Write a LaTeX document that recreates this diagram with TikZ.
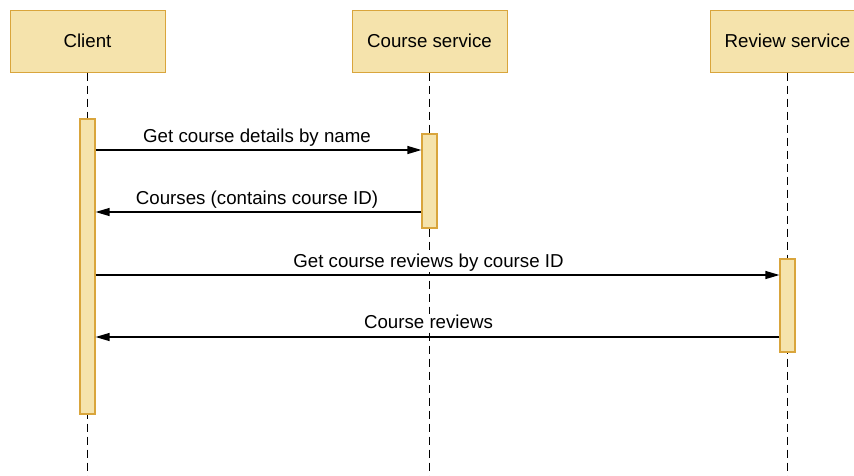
\documentclass[tikz,border=0pt]{standalone}
\usepackage{fontspec}
\setmainfont{Liberation Sans}
\usetikzlibrary{arrows.meta}
\definecolor{boxfill}{HTML}{F5E3AC}
\definecolor{boxline}{HTML}{D9A53C}
\begin{document}
\begin{tikzpicture}[x=1pt,y=-1pt,
  actor/.style={draw=boxline,fill=boxfill,line width=1pt,minimum width=155pt,minimum height=62pt,inner sep=0pt,font=\fontsize{18.7}{22}\selectfont},
  act/.style={draw=boxline,fill=boxfill,line width=1.2pt,minimum width=15pt,inner sep=0pt},
  life/.style={line width=1.3pt,dash pattern=on 8pt off 5pt},
  msg/.style={line width=1.3pt,-{Triangle[length=14pt,width=8pt]}},
  lbl/.style={fill=white,inner sep=1pt,anchor=base,font=\fontsize{18.7}{22}\selectfont}]
\useasboundingbox (0,0) rectangle (854,475);
% actors
\node[actor] (client) at (87.5,41) {Client};
\node[actor] (course) at (429.5,41) {Course service};
\node[actor] (review) at (787.5,41) {Review service};
% lifeline ends
\coordinate (clend) at (87.5,478);
\coordinate (coend) at (429.5,478);
\coordinate (reend) at (787.5,478);
\draw[life] (client.south) -- (clend);
\draw[life] (course.south) -- (coend);
\draw[life] (review.south) -- (reend);
% activations
\node[act,minimum height=295pt] (aclient) at (87.5,266.5) {};
\node[act,minimum height=94pt] (acourse) at (429.5,181) {};
\node[act,minimum height=93pt] (areview) at (787.5,305.5) {};
% messages
\draw[msg] (aclient.east |- 0,150) -- (acourse.west |- 0,150);
\draw[msg] (acourse.west |- 0,212) -- (aclient.east |- 0,212);
\draw[msg] (aclient.east |- 0,275) -- (areview.west |- 0,275);
\draw[msg] (areview.west |- 0,337) -- (aclient.east |- 0,337);
% labels
\node[lbl] (l1) at (257,142) {Get course details by name};
\node[lbl] (l2) at (257,204) {Courses (contains course ID)};
\node[lbl] (l3) at (428.5,267) {Get course reviews by course ID};
\node[lbl] (l4) at (428.5,328.5) {Course reviews};
\end{tikzpicture}
\end{document}
